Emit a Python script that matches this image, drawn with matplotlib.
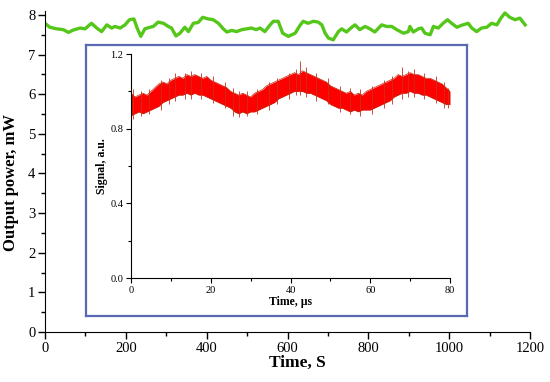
import numpy as np
import matplotlib.pyplot as plt
from matplotlib.ticker import MultipleLocator

plt.rcParams['font.family'] = ['Liberation Serif', 'DejaVu Serif']

# output power vs time (s, mW)
power_t = [0, 12, 29, 45, 58, 70, 87, 99, 115, 128, 140, 153, 165, 173, 186, 198,
           209, 220, 228, 237, 247, 260, 268, 280, 293, 305, 313, 324, 334, 346,
           355, 367, 379, 390, 404, 416, 429, 441, 450, 462, 474, 487, 499, 511,
           522, 532, 544, 557, 565, 577, 588, 602, 619, 631, 639, 651, 664, 676,
           685, 693, 701, 713, 726, 734, 746, 759, 767, 779, 792, 804, 816, 833,
           845, 858, 870, 887, 899, 903, 911, 924, 932, 940, 953, 961, 973, 985,
           996, 1006, 1019, 1031, 1047, 1056, 1068, 1080, 1093, 1105, 1118, 1128,
           1138, 1150, 1163, 1175, 1188]
power_mw = [7.79, 7.69, 7.65, 7.63, 7.56, 7.62, 7.67, 7.65, 7.79, 7.67, 7.58, 7.75,
            7.67, 7.71, 7.67, 7.75, 7.88, 7.90, 7.67, 7.46, 7.65, 7.69, 7.71, 7.82,
            7.79, 7.71, 7.67, 7.47, 7.54, 7.69, 7.58, 7.79, 7.81, 7.94, 7.90, 7.88,
            7.79, 7.65, 7.57, 7.61, 7.58, 7.63, 7.65, 7.67, 7.63, 7.67, 7.58, 7.75,
            7.84, 7.84, 7.54, 7.46, 7.54, 7.74, 7.84, 7.79, 7.84, 7.82, 7.75, 7.54,
            7.42, 7.37, 7.58, 7.65, 7.57, 7.69, 7.75, 7.63, 7.71, 7.65, 7.57, 7.75,
            7.71, 7.71, 7.63, 7.54, 7.58, 7.71, 7.57, 7.65, 7.67, 7.54, 7.50, 7.71,
            7.67, 7.79, 7.88, 7.79, 7.69, 7.74, 7.79, 7.67, 7.58, 7.67, 7.69, 7.79,
            7.75, 7.92, 8.05, 7.94, 7.88, 7.92, 7.75]

# inset signal envelope (us, a.u.), one value per microsecond
sig_t = list(range(81))
sig_hi = [0.99, 0.97, 0.98, 0.99, 0.98, 1.00, 1.02, 1.04, 1.05, 1.04, 1.06, 1.07,
          1.08, 1.07, 1.09, 1.08, 1.09, 1.08, 1.07, 1.08, 1.06, 1.05, 1.04, 1.03,
          1.02, 1.00, 0.99, 0.98, 0.99, 0.98, 0.97, 0.99, 1.00, 1.01, 1.03, 1.04,
          1.05, 1.06, 1.07, 1.08, 1.09, 1.10, 1.09, 1.11, 1.10, 1.09, 1.08, 1.07,
          1.06, 1.05, 1.03, 1.02, 1.01, 1.00, 0.99, 1.00, 0.98, 0.99, 0.98, 1.00,
          1.01, 1.02, 1.03, 1.04, 1.05, 1.06, 1.07, 1.09, 1.08, 1.09, 1.10, 1.09,
          1.09, 1.08, 1.07, 1.07, 1.06, 1.05, 1.04, 1.02, 1.00]
sig_lo = [0.87, 0.88, 0.89, 0.88, 0.89, 0.90, 0.91, 0.92, 0.94, 0.95, 0.96, 0.97,
          0.98, 0.98, 0.99, 0.98, 0.99, 0.98, 0.98, 0.97, 0.96, 0.95, 0.94, 0.93,
          0.92, 0.91, 0.89, 0.88, 0.89, 0.88, 0.89, 0.89, 0.90, 0.91, 0.92, 0.93,
          0.94, 0.96, 0.97, 0.98, 0.99, 1.00, 1.00, 1.00, 0.99, 0.99, 0.98, 0.97,
          0.96, 0.95, 0.93, 0.92, 0.91, 0.91, 0.90, 0.89, 0.90, 0.89, 0.90, 0.90,
          0.90, 0.91, 0.92, 0.93, 0.94, 0.95, 0.97, 0.98, 0.99, 0.99, 1.00, 0.99,
          0.99, 0.98, 0.98, 0.97, 0.96, 0.95, 0.94, 0.93, 0.93]
# single noise spikes sticking out of the band
spike_t = [0.5, 2.5, 4.5, 7.5, 9.5, 11, 13.5, 15, 17.5, 20.5, 23.5, 25.5, 27, 29,
           31.5, 34.5, 36.5, 39.5, 41.5, 42.5, 44, 46.5, 49.5, 52.5, 55, 57.5,
           60.5, 63.5, 65.5, 68, 69.5, 71, 73.5, 76.5, 78.5, 79.5]
spike_lo = [0.85, 0.87, 0.88, 0.90, 0.93, 0.95, 0.96, 0.96, 0.96, 0.94, 0.91, 0.87,
            0.86, 0.87, 0.88, 0.90, 0.93, 0.96, 0.98, 0.98, 0.97, 0.95, 0.93, 0.89,
            0.88, 0.87, 0.88, 0.91, 0.93, 0.96, 0.97, 0.97, 0.96, 0.94, 0.91, 0.91]
spike_hi = [1.01, 1.00, 1.01, 1.06, 1.07, 1.10, 1.10, 1.11, 1.10, 1.08, 1.05, 1.02,
            1.00, 1.00, 1.01, 1.05, 1.07, 1.10, 1.12, 1.165, 1.13, 1.10, 1.07, 1.03,
            1.02, 1.01, 1.03, 1.06, 1.08, 1.13, 1.11, 1.12, 1.10, 1.08, 1.05, 1.02]

fig = plt.figure(figsize=(5.5, 3.82), dpi=100)

ax = fig.add_axes([45/550, 1 - 332/382, 485/550, 321/382])
ax.plot(power_t, power_mw, color='#55c61a', lw=2.4, solid_joinstyle='round')
ax.set_xlim(0, 1200)
ax.set_ylim(0, 8.1)
ax.spines['top'].set_visible(False)
ax.spines['right'].set_visible(False)
ax.xaxis.set_major_locator(MultipleLocator(200))
ax.xaxis.set_minor_locator(MultipleLocator(100))
ax.yaxis.set_major_locator(MultipleLocator(1))
ax.yaxis.set_minor_locator(MultipleLocator(0.5))
ax.tick_params(which='both', direction='out', labelsize=10.5, width=1, pad=2)
ax.tick_params(which='major', length=5)
ax.tick_params(which='minor', length=3)
ax.set_xlabel('Time, S', fontsize=12.5, fontweight='bold')
ax.set_ylabel('Output power, mW', fontsize=12, fontweight='bold')
ax.xaxis.set_label_coords(0.52, -0.07)
ax.yaxis.set_label_coords(-0.054, 0.465)

# framed inset
box = fig.add_axes([86/550, 1 - 316/382, 381/550, 271/382])
box.set_xticks([])
box.set_yticks([])
box.set_facecolor('white')
for s in box.spines.values():
    s.set_color('#5a6ab2')
    s.set_linewidth(1.6)

ins = fig.add_axes([131/550, 1 - 278/382, 319/550, 224/382])
ins.patch.set_alpha(0)
ins.fill_between(sig_t, sig_lo, sig_hi, color='#ff0000', lw=0)
ins.plot(sig_t, sig_hi, color='#c02a10', lw=0.5)
ins.plot(sig_t, sig_lo, color='#c02a10', lw=0.5)
ins.vlines(spike_t, spike_lo, spike_hi, color='#c8301a', lw=0.6)
ins.set_xlim(0, 80)
ins.set_ylim(0, 1.2)
ins.spines['top'].set_visible(False)
ins.spines['right'].set_visible(False)
ins.xaxis.set_major_locator(MultipleLocator(20))
ins.xaxis.set_minor_locator(MultipleLocator(10))
ins.yaxis.set_major_locator(MultipleLocator(0.4))
ins.yaxis.set_minor_locator(MultipleLocator(0.2))
ins.yaxis.set_major_formatter(plt.FormatStrFormatter('%.1f'))
ins.tick_params(which='both', direction='out', labelsize=7.5, width=0.8, pad=2)
ins.tick_params(which='major', length=3.5)
ins.tick_params(which='minor', length=2)
ins.set_xlabel('Time, µs', fontsize=8.5, fontweight='bold', labelpad=1)
ins.set_ylabel('Signal, a.u.', fontsize=8.5, fontweight='bold', labelpad=2)

fig.savefig('out.png', dpi=100)
